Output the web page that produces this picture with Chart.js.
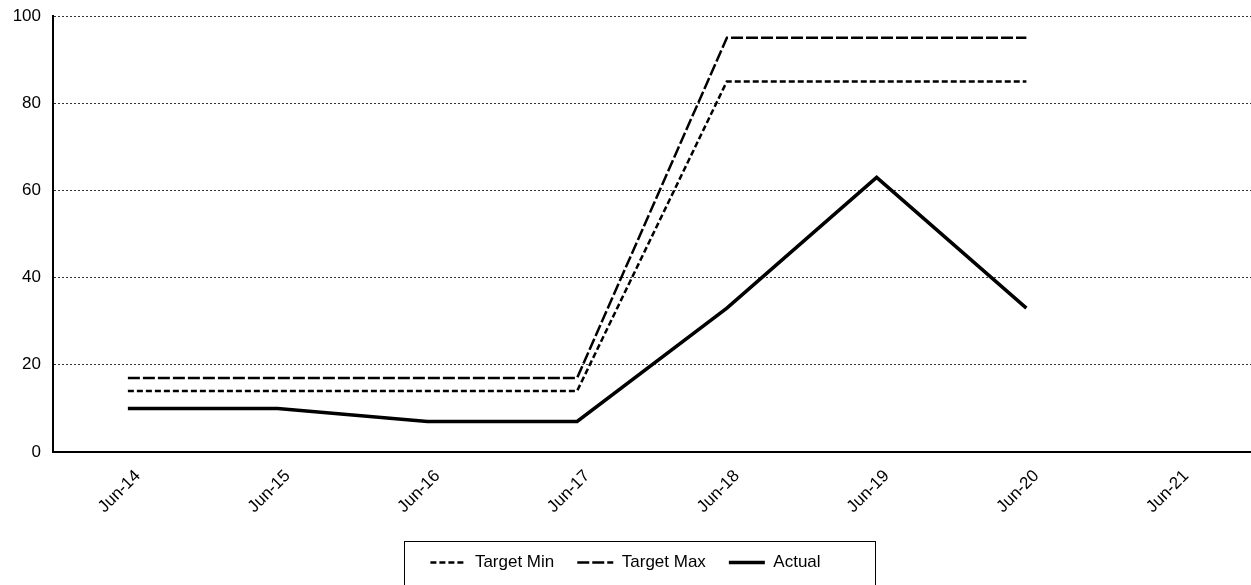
<!DOCTYPE html>
<html>
<head>
<meta charset="utf-8">
<script src="https://cdn.jsdelivr.net/npm/chart.js@4/dist/chart.umd.min.js"></script>
<style>
  html, body { margin: 0; padding: 0; background: #fff; }
  #wrap { width: 1251px; height: 585px; position: relative; }
</style>
</head>
<body>
<div id="wrap"><canvas id="c"></canvas></div>
<script>
// Monthly categories along the x axis
const categories = ['Jun-14', 'Jun-15', 'Jun-16', 'Jun-17', 'Jun-18', 'Jun-19', 'Jun-20', 'Jun-21'];

// Series values (null where no value is recorded)
const targetMin = [14, 14, 14, 14, 85, 85, 85, null];
const targetMax = [17, 17, 17, 17, 95, 95, 95, null];
const actual    = [10, 10, 7, 7, 33, 63, 33, null];

// Value axis ticks
const yTicks = [0, 20, 40, 60, 80, 100];

const FONT = 'Liberation Sans, Arial, Helvetica, sans-serif';
const FONT_SIZE = 17;

// Draws a thin frame around the legend row
const legendFrame = {
  id: 'legendFrame',
  afterDraw(chart) {
    const lg = chart.legend;
    if (!lg || !lg.legendHitBoxes || !lg.legendHitBoxes.length) return;
    const boxes = lg.legendHitBoxes;
    const first = boxes[0];
    const last = boxes[boxes.length - 1];
    const left = first.left - 26;
    const right = last.left + last.width + 55;
    const midY = first.top + first.height / 2;
    const top = midY - 22;
    const ctx = chart.ctx;
    ctx.save();
    ctx.strokeStyle = '#000';
    ctx.lineWidth = 1;
    ctx.strokeRect(Math.round(left) + 0.5, Math.round(top) + 0.5, Math.round(right - left), 80);
    ctx.restore();
  }
};

const line = (label, data, width, dash) => ({
  label,
  data,
  borderColor: '#000',
  backgroundColor: '#000',
  borderWidth: width,
  borderDash: dash,
  pointRadius: 0,
  pointHoverRadius: 0,
  tension: 0,
  fill: false,
  spanGaps: false
});

new Chart(document.getElementById('c'), {
  type: 'line',
  data: {
    labels: categories,
    datasets: [
      line('Target Min', targetMin, 2.5, [6, 3]),
      line('Target Max', targetMax, 2.5, [12, 3]),
      line('Actual', actual, 3.5, [])
    ]
  },
  options: {
    responsive: true,
    maintainAspectRatio: false,
    animation: false,
    events: [],
    layout: { padding: { top: 16, right: 0, bottom: 4, left: 0 } },
    plugins: {
      tooltip: { enabled: false },
      legend: {
        position: 'bottom',
        labels: {
          usePointStyle: true,
          pointStyle: 'line',
          pointStyleWidth: 36,
          boxWidth: 36,
          color: '#000',
          padding: 23,
          font: { family: FONT, size: FONT_SIZE },
          // keep each series' dash pattern and weight in its legend sample
          generateLabels(chart) {
            const items = Chart.defaults.plugins.legend.labels.generateLabels(chart);
            return items.map(item => {
              const ds = chart.data.datasets[item.datasetIndex];
              item.lineDash = ds.borderDash || [];
              item.lineWidth = ds.borderWidth;
              item.strokeStyle = ds.borderColor;
              item.pointStyle = 'line';
              return item;
            });
          }
        }
      }
    },
    scales: {
      x: {
        offset: true,
        afterFit(scale) { scale.height = 79; },
        grid: { display: false, drawTicks: false },
        border: { display: true, color: '#000', width: 2 },
        ticks: {
          color: '#000',
          font: { family: FONT, size: FONT_SIZE },
          maxRotation: 45,
          minRotation: 45,
          padding: 14,
          labelOffset: 10,
          autoSkip: false
        }
      },
      y: {
        min: 0,
        max: 100,
        afterFit(scale) {
          scale.width = 53;
          scale.paddingTop = 0;
          scale.paddingBottom = 0;
        },
        afterBuildTicks(scale) { scale.ticks = yTicks.map(v => ({ value: v })); },
        grid: { color: '#333', lineWidth: 1, drawTicks: false },
        border: { display: true, color: '#000', width: 2, dash: [2, 2] },
        ticks: {
          color: '#000',
          font: { family: FONT, size: FONT_SIZE },
          padding: 12
        }
      }
    }
  },
  plugins: [legendFrame]
});
</script>
</body>
</html>
